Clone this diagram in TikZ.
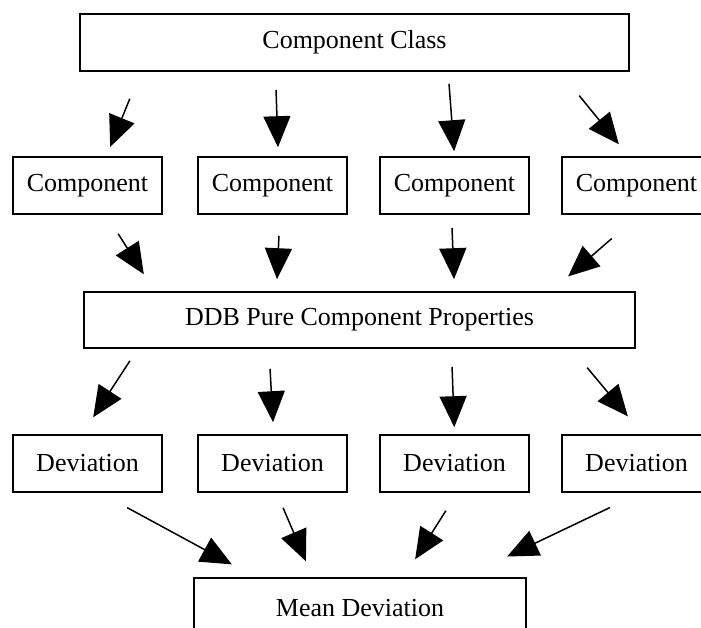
\documentclass[tikz,border=0pt]{standalone}
\usepackage{fontspec}
\setmainfont{Liberation Serif}
\usetikzlibrary{arrows.meta}
\tikzset{box/.style = {draw, line width = 1.6pt, inner sep = 0, minimum height = 57pt, font = \fontsize{26}{30}\selectfont}}
\tikzset{arr/.style = {line width = 1.5pt, -{Triangle[length = 31pt, width = 27pt]}}}

\begin{document}
\begin{tikzpicture}[x = 1pt, y = -1pt]
      \useasboundingbox (0, 0) rectangle (701, 628);
      \clip (0, 0) rectangle (701, 628);

      \node [box, minimum width = 549pt] (class) at (354.5, 42.5) {Component Class};

      \node [box, minimum width = 149pt] (comp1) at (87.5, 185.5) {Component};
      \node [box, minimum width = 149pt] (comp2) at (272.5, 185.5) {Component};
      \node [box, minimum width = 149pt] (comp3) at (454.5, 185.5) {Component};
      \node [box, minimum width = 149pt] (comp4) at (636.5, 185.5) {Component};

      \node [box, minimum width = 551pt, minimum height = 56pt] (ddb) at (359.5, 320) {DDB Pure Component Properties};

      \node [box, minimum width = 149pt] (dev1) at (87.5, 463.5) {Deviation};
      \node [box, minimum width = 149pt] (dev2) at (272.5, 463.5) {Deviation};
      \node [box, minimum width = 149pt] (dev3) at (454.5, 463.5) {Deviation};
      \node [box, minimum width = 149pt] (dev4) at (636.5, 463.5) {Deviation};

      \node [box, minimum width = 332pt, minimum height = 60pt] (mean) at (360, 608) {Mean Deviation};

      \draw [arr, shorten <= 29pt, shorten >= 10pt] ([xshift = -213.7pt]class.south) -- ([xshift = 18.9pt]comp1.north);
      \draw [arr, shorten <= 18pt, shorten >= 9pt] ([xshift = -79.1pt]class.south) -- ([xshift = 5.8pt]comp2.north);
      \draw [arr, shorten <= 12pt, shorten >= 5pt] ([xshift = 93.6pt]class.south) -- (comp3.north);
      \draw [arr, shorten <= 30.7pt, shorten >= 15.4pt] ([xshift = 205.3pt]class.south) -- ([xshift = -7.9pt]comp4.north);

      \draw [arr, shorten <= 22.4pt, shorten >= 20pt] ([xshift = 18.7pt]comp1.south) -- ([xshift = -205pt]ddb.north);
      \draw [arr, shorten <= 21pt, shorten >= 12pt] ([xshift = 7.4pt]comp2.south) -- ([xshift = -83pt]ddb.north);
      \draw [arr, shorten <= 13pt, shorten >= 12pt] ([xshift = -3pt]comp3.south) -- ([xshift = 95pt]ddb.north);
      \draw [arr, shorten <= 36.2pt, shorten >= 22.6pt] ([xshift = 2.6pt]comp4.south) -- ([xshift = 191.6pt]ddb.north);

      \draw [arr, shorten <= 14.3pt, shorten >= 20.1pt] ([xshift = -221.8pt]ddb.south) -- ([xshift = -5.3pt]dev1.north);
      \draw [arr, shorten <= 20pt, shorten >= 12pt] ([xshift = -90.6pt]ddb.south) -- ([xshift = 1.2pt]dev2.north);
      \draw [arr, shorten <= 18pt, shorten >= 7pt] ([xshift = 91.9pt]ddb.south) -- (dev3.north);
      \draw [arr, shorten <= 24.6pt, shorten >= 23.3pt] ([xshift = 211.9pt]ddb.south) -- ([xshift = 6.3pt]dev4.north);

      \draw [arr, shorten <= 31.1pt, shorten >= 26.9pt] ([xshift = 12.3pt]dev1.south) -- ([xshift = -104.5pt]mean.north);
      \draw [arr, shorten <= 16.3pt, shorten >= 17.3pt] ([xshift = 4.2pt]dev2.south) -- ([xshift = -47.3pt]mean.north);
      \draw [arr, shorten <= 21.2pt, shorten >= 21.2pt] ([xshift = 2.7pt]dev3.south) -- ([xshift = 43.8pt]mean.north);
      \draw [arr, shorten <= 34.3pt, shorten >= 48.1pt] ([xshift = 4.4pt]dev4.south) -- ([xshift = 103.7pt]mean.north);
    \end{tikzpicture}
\end{document}
